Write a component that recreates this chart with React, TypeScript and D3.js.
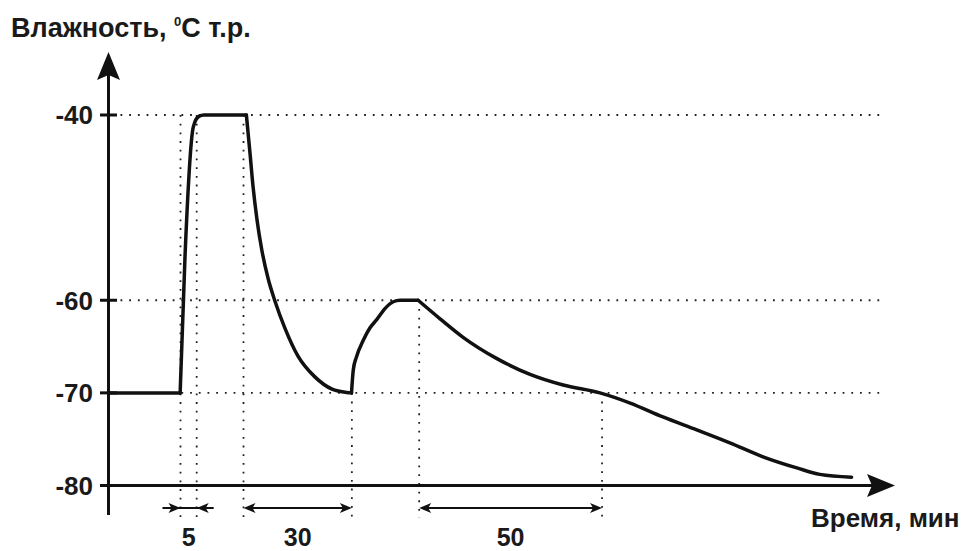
import React from "react";
import * as d3 from "d3";

// ---- data (time in minutes, humidity in °C dew point) ----
const yTicks = [-40, -60, -70, -80];
const gridLevels = [-40, -60, -70];
const humidityCurve: [number, number][] = [
  [0, -70], [19.9, -70],
  [21.25, -55.3], [23.4, -41.6], [24.0, -40.75], [25.1, -40.15], [26.5, -40], [38.3, -40],
  [39.3, -44.1], [40.2, -47.9], [41.25, -51.3], [42.6, -54.6], [44.3, -57.6], [46.25, -60.1],
  [49.0, -63.0], [52.6, -66.0], [57.4, -68.3], [62.1, -69.6], [66.2, -69.96], [67.5, -70],
  [68.0, -67.5], [68.9, -66.1], [70.8, -64.3], [72.6, -63.0], [74.5, -62.1], [76.8, -60.9],
  [79.1, -60.16], [81.0, -60], [86.0, -60],
  [92.1, -62.0], [98.5, -64.0], [107.9, -66.3], [117.1, -68.0], [126.3, -69.15],
  [136.5, -70.0], [144.9, -71.1], [154.0, -72.6], [163.4, -74.0], [172.6, -75.4],
  [181.8, -76.9], [191.2, -78.1], [197.6, -78.8], [206.4, -79.1],
];
const cornerTimes = [19.9, 38.3, 67.5, 86.0];
// vertical guides: time and the level where each starts
const guideTimes = [20, 24.5, 37.5, 67.6, 86.3, 137.1];
const guideTops = [-40, -40, -40, -70, -60, -70];
// dimension intervals
const intervalStarts = [20, 37.5, 86.3];
const intervalEnds = [24.5, 67.6, 137.1];
const intervalLabels = ["5", "30", "50"];
const yTitle = "Влажность, ";
const yTitleUnit = "С т.р.";
const xTitle = "Время, мин";

const W = 963;
const H = 551;

export default function App() {
  const x = d3.scaleLinear().domain([0, 200]).range([108.5, 828.5]);
  const y = d3.scaleLinear().domain([-80, -40]).range([485.5, 115]);

  // split curve at sharp corners
  const segments: [number, number][][] = [];
  let cur: [number, number][] = [];
  humidityCurve.forEach((p) => {
    cur.push(p);
    if (cornerTimes.includes(p[0])) {
      segments.push(cur);
      cur = [p];
    }
  });
  if (cur.length > 1) segments.push(cur);

  const line = d3
    .line<[number, number]>()
    .x((d) => x(d[0]))
    .y((d) => y(d[1]))
    .curve(d3.curveMonotoneX);

  const axisY = y(-80);
  const axisX = x(0);
  const dimY = 508;
  const font = "'Liberation Sans', Arial, sans-serif";
  const dot = { stroke: "#222", strokeWidth: 1.8, strokeDasharray: "1.8 6.9" };

  const head = (tipX: number, dir: number) =>
    `M${tipX},${dimY} L${tipX - dir * 12},${dimY - 5} L${tipX - dir * 9},${dimY} L${tipX - dir * 12},${dimY + 5} Z`;

  return (
    <svg width={W} height={H} style={{ position: "absolute", left: 0, top: 0, background: "#fff" }}>
      <rect width={W} height={H} fill="#fff" />
      {/* horizontal dotted grid */}
      {gridLevels.map((v) => (
        <line key={"g" + v} x1={axisX + 12} x2={884} y1={y(v)} y2={y(v)} {...dot} />
      ))}
      {/* vertical dotted guides */}
      {guideTimes.map((t, i) => (
        <line key={"v" + i} x1={x(t)} x2={x(t)} y1={y(guideTops[i])} y2={518} {...dot} />
      ))}
      {/* curve */}
      {segments.map((s, i) => (
        <path key={"s" + i} d={line(s) || ""} fill="none" stroke="#111" strokeWidth={3.5} strokeLinejoin="round" strokeLinecap="round" />
      ))}
      {/* axes */}
      <line x1={axisX} x2={axisX} y1={75} y2={515} stroke="#111" strokeWidth={3} />
      <path d={`M${axisX},52 L${axisX - 11.5},80 L${axisX},75 L${axisX + 11.5},80 Z`} fill="#111" />
      <line x1={100} x2={872} y1={axisY} y2={axisY} stroke="#111" strokeWidth={3} />
      <path d={`M895,${axisY} L867,${axisY - 11.5} L872,${axisY} L867,${axisY + 11.5} Z`} fill="#111" />
      {/* y ticks */}
      {yTicks.map((v) => (
        <g key={"t" + v}>
          <line x1={100} x2={117} y1={y(v)} y2={y(v)} stroke="#111" strokeWidth={3} />
          <text x={93} y={y(v) + 9.3} textAnchor="end" fontFamily={font} fontWeight="bold" fontSize={26} fill="#1a1a1a">
            {v}
          </text>
        </g>
      ))}
      {/* titles */}
      <text x={11} y={37} fontFamily={font} fontWeight="bold" fontSize={27} fill="#1a1a1a">
        {yTitle}
        <tspan fontSize={13} dy={-11}>0</tspan>
        <tspan dy={11}>{yTitleUnit}</tspan>
      </text>
      <text x={811} y={527} fontFamily={font} fontWeight="bold" fontSize={26} fill="#1a1a1a">
        {xTitle}
      </text>
      {/* dimension arrows */}
      {intervalStarts.map((s, i) => {
        const e = intervalEnds[i];
        const a = x(s);
        const b = x(e);
        const inward = i === 0;
        return (
          <g key={"d" + i}>
            {inward ? (
              <>
                <line x1={a - 18} x2={b + 17} y1={dimY} y2={dimY} stroke="#111" strokeWidth={1.8} />
                <path d={head(a, 1)} fill="#111" />
                <path d={head(b, -1)} fill="#111" />
              </>
            ) : (
              <>
                <line x1={a + 4} x2={b - 4} y1={dimY} y2={dimY} stroke="#111" strokeWidth={1.8} />
                <path d={head(a, -1)} fill="#111" />
                <path d={head(b, 1)} fill="#111" />
              </>
            )}
            <text x={(a + b) / 2} y={546} textAnchor="middle" fontFamily={font} fontWeight="bold" fontSize={25} fill="#1a1a1a">
              {intervalLabels[i]}
            </text>
          </g>
        );
      })}
    </svg>
  );
}
